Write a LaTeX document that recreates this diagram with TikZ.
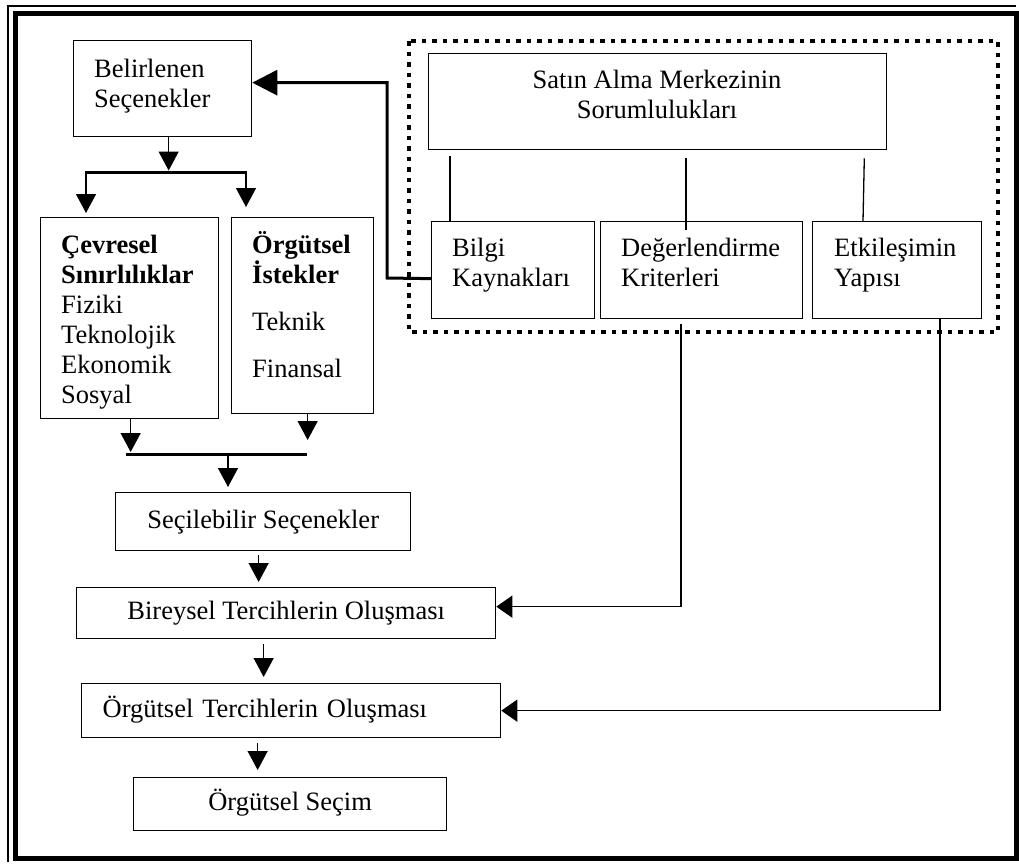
\documentclass[tikz,border=0pt]{standalone}
\usepackage{fontspec}
\setmainfont{Liberation Serif}
\usetikzlibrary{arrows.meta,calc}
% fixed first-line height so text blocks can be placed by their top edge
\newcommand\lnstrut{\rule{0pt}{24pt}}
\begin{document}
\begin{tikzpicture}[x=1pt,y=-1pt,
  every node/.style={font=\fontsize{26.5}{30}\selectfont},
  box/.style={draw, line width=1.3pt, rectangle, inner sep=0pt, anchor=north west},
  sline/.style={box, text height=19pt, text depth=6pt},
  txt/.style={inner sep=0pt, align=left, anchor=north west},
  bar/.style={line width=3pt},
  link/.style={line width=1.3pt},
  darrow/.style={line width=1.4pt, -{Triangle[length=19pt,width=20pt]}},
  larrow/.style={line width=1.4pt, -{Triangle[length=16pt,width=22pt]}},
  fbarrow/.style={line width=3pt, -{Triangle[length=25pt,width=25pt]}},
  dotbox/.style={line width=4.5pt, dash pattern=on 4.5pt off 6pt}
]
\path[use as bounding box, fill=white] (0,0) rectangle (1019,863);

% page frame: thin outer rule, thick inner rule
\draw[line width=5pt] (15.5,13.5) rectangle (1016,858.5);
\draw[line width=1.2pt] (8,862) -- (8,6) -- (1016,6);

% purchasing centre group
\draw[dotbox] (409,41) rectangle (998,332);

% boxes
\node[box, minimum width=178pt, minimum height=96pt] (bel) at (73,40) {};
\node[box, minimum width=178pt, minimum height=201pt] (cev) at (40,217) {};
\node[box, minimum width=142pt, minimum height=196pt] (org) at (231,217) {};
\node[box, minimum width=458pt, minimum height=96pt] (sat) at (428,53) {};
\node[box, minimum width=163pt, minimum height=97pt] (bil) at (431,221) {};
\node[box, minimum width=202pt, minimum height=97pt] (deg) at (600,221) {};
\node[box, minimum width=169pt, minimum height=97pt] (etk) at (812,221) {};

\node[sline, minimum width=295pt, minimum height=58pt] (sec) at (115,492) {Seçilebilir Seçenekler};
\node[sline, minimum width=419pt, minimum height=51pt] (bir) at (76,587) {Bireysel Tercihlerin Oluşması};
\node[sline, minimum width=419pt, minimum height=54pt, text width=377pt, align=left, inner xsep=21pt] (orgT) at (81,683) {Örgütsel Tercihlerin Oluşması};
\node[sline, minimum width=313pt, minimum height=53pt] (secim) at (133,777) {Örgütsel Seçim};

% box texts
\node[txt] (belText) at (94,53) {\lnstrut Belirlenen\\Seçenekler};
\node[txt] (cevText) at (61,229) {\lnstrut\textbf{Çevresel}\\\textbf{Sınırlılıklar}\\Fiziki\\Teknolojik\\Ekonomik\\Sosyal};
\node[txt] (orgText) at (252,229) {\lnstrut\textbf{Örgütsel}\\\textbf{İstekler}\\[17pt]Teknik\\[17pt]Finansal};
\node[txt, anchor=north, align=center] (satText) at (657,64) {\lnstrut Satın Alma Merkezinin\\Sorumlulukları};
\node[txt] (bilText) at (452,232) {\lnstrut Bilgi\\Kaynakları};
\node[txt] (degText) at (621,232) {\lnstrut Değerlendirme\\Kriterleri};
\node[txt] (etkText) at (834,232) {\lnstrut Etkileşimin\\Yapısı};

% branching bars
\coordinate (b1l) at (85,172);
\coordinate (b1r) at (247,172);
\coordinate (b2l) at (126,454);
\coordinate (b2r) at (307,454);
\coordinate (b2m) at (228,454);
\draw[bar] (b1l) -- (b1r);
\draw[bar] (b2l) -- (b2r);

% main flow
\draw[darrow, shorten >=1.5pt] ([xshift=6pt]bel.south) -- ([xshift=6pt]bel.south |- b1l);
\draw[darrow, shorten >=4pt] ([xshift=1pt]b1l) -- ([xshift=1pt]b1l |- cev.north);
\draw[darrow, shorten >=10pt] ([xshift=-1pt]b1r) -- ([xshift=-1pt]b1r |- org.north);
\draw[darrow, shorten >=2pt] ([xshift=1pt]cev.south) -- ([xshift=1pt]cev.south |- b2l);
\draw[darrow, shorten >=14pt] ([xshift=5pt]org.south) -- ([xshift=5pt]org.south |- b2r);
\draw[darrow, shorten >=5pt] (b2m) -- (b2m |- sec.north);
\draw[darrow, shorten <=4pt, shorten >=5pt] ([xshift=-4.5pt]sec.south) -- ([xshift=-4.5pt]sec.south |- bir.north);
\draw[darrow, shorten <=5pt, shorten >=6pt] ([xshift=-22.5pt]bir.south) -- ([xshift=-22.5pt]bir.south |- orgT.north);
\draw[darrow, shorten <=5pt, shorten >=7pt] ([xshift=-33.5pt]orgT.south) -- ([xshift=-33.5pt]orgT.south |- secim.north);

% responsibilities of the purchasing centre
\draw[link] ([xshift=22pt,yshift=-6pt]sat.south west) -- ([xshift=19pt]bil.north west);
\draw[link] ([xshift=258pt,yshift=-8pt]sat.south west) -- ([xshift=86pt,yshift=-9pt]deg.north west);
\draw[link] ([xshift=-23pt,yshift=-8pt]sat.south east) -- ([xshift=51pt]etk.north west);

% influences on preference formation
\draw[larrow] ([xshift=81pt,yshift=-5pt]deg.south west) |- ([yshift=6.5pt]bir.east);
\draw[larrow] ([xshift=128pt]etk.south west) |- (orgT.east);

% information sources feed back to the identified options
\coordinate (fb) at (387,278);
\draw[fbarrow] ([yshift=-8.5pt]bil.west) -- (fb) |- ([yshift=6pt]bel.east);
\end{tikzpicture}
\end{document}
